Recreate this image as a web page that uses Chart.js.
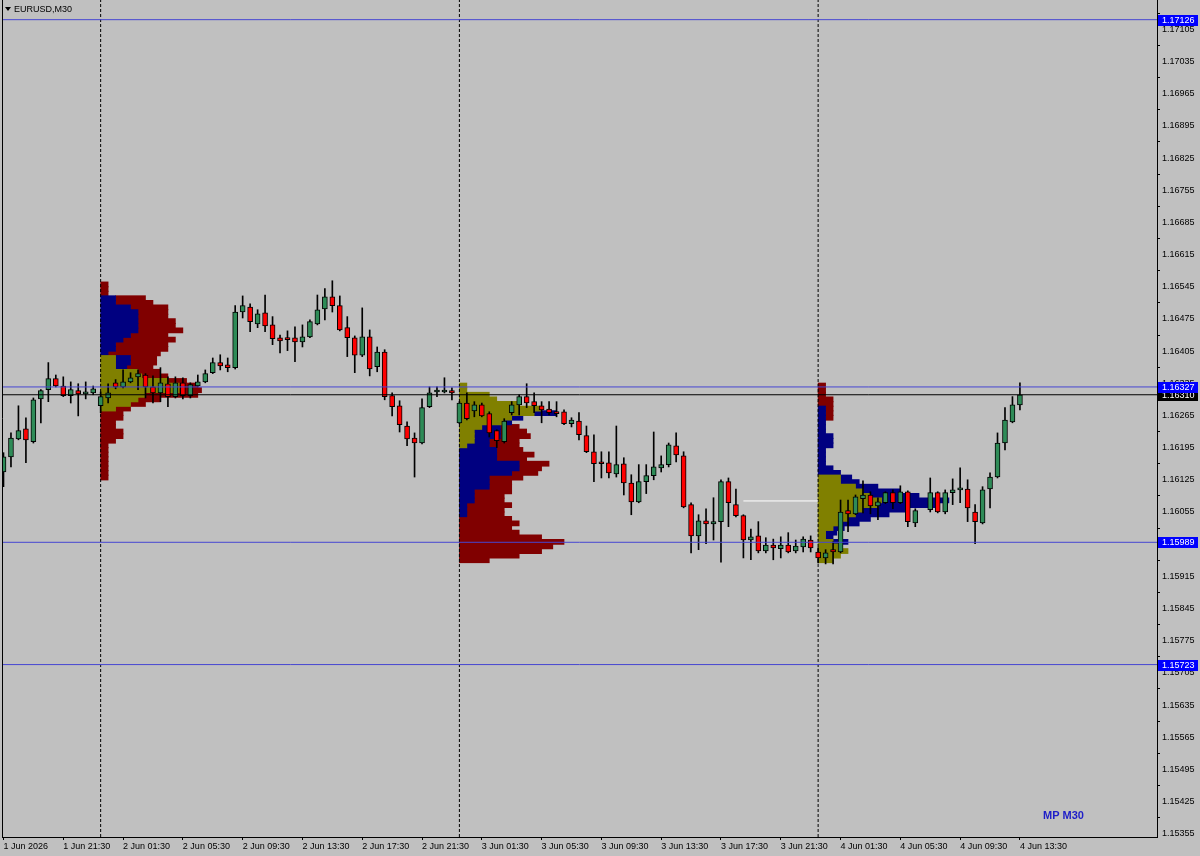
<!DOCTYPE html>
<html>
<head>
<meta charset="utf-8">
<title>EURUSD,M30</title>
<script src="https://cdn.jsdelivr.net/npm/chart.js@4/dist/chart.umd.min.js"></script>
<style>
  html, body { margin: 0; padding: 0; background: #c0c0c0; }
  canvas { display: block; }
</style>
</head>
<body>
<canvas id="chart" width="1200" height="856"></canvas>
<script>
// M30 bars, 1 Jun 17:30 .. 4 Jun 13:30 (bar 123 missing)
const opens = [1.16142,1.16175,1.16214,1.16236,1.16208,1.16301,1.16321,1.16345,1.16329,1.16308,
  1.16319,1.16312,1.16314,1.16286,1.16303,1.16336,1.16327,1.16338,1.16349,1.16353,
  1.16327,1.16314,1.16334,1.16306,1.16336,1.16308,1.16329,1.16338,1.16358,1.16380,
  1.16375,1.16369,1.16490,1.16501,1.16464,1.16488,1.16462,1.16434,1.16432,1.16434,
  1.16425,1.16436,1.16464,1.16497,1.16523,1.16504,1.16456,1.16434,1.16396,1.16436,
  1.16371,1.16403,1.16308,1.16286,1.16242,1.16216,1.16205,1.16284,1.16316,1.16316,
  1.16319,1.16249,1.16292,1.16275,1.16288,1.16269,1.16232,1.16208,1.16271,1.16288,
  1.16306,1.16295,1.16286,1.16279,1.16271,1.16273,1.16247,1.16253,1.16221,1.16186,
  1.16162,1.16162,1.16138,1.16160,1.16118,1.16077,1.16121,1.16134,1.16151,1.16158,
  1.16199,1.16177,1.16071,1.16003,1.16036,1.16029,1.16034,1.16121,1.16071,1.16047,
  1.15994,1.16003,1.15970,1.15983,1.15975,1.15983,1.15970,1.15979,1.15994,1.15968,
  1.15955,1.15973,1.15968,1.16058,1.16051,1.16084,1.16092,1.16068,1.16075,1.16097,
  1.16075,1.16099,1.16031,null,1.16060,1.16097,1.16055,1.16097,1.16103,1.16105,
  1.16055,1.16031,1.16105,1.16131,1.16205,1.16251,1.16288];
const highs = [1.16184,1.16227,1.16286,1.16260,1.16303,1.16321,1.16380,1.16353,1.16349,1.16338,
  1.16334,1.16338,1.16329,1.16316,1.16334,1.16343,1.16364,1.16358,1.16364,1.16356,
  1.16351,1.16369,1.16349,1.16349,1.16347,1.16336,1.16353,1.16364,1.16390,1.16397,
  1.16390,1.16504,1.16525,1.16508,1.16495,1.16527,1.16480,1.16440,1.16449,1.16458,
  1.16462,1.16473,1.16527,1.16541,1.16558,1.16525,1.16480,1.16438,1.16499,1.16451,
  1.16414,1.16408,1.16314,1.16297,1.16251,1.16227,1.16301,1.16327,1.16327,1.16347,
  1.16325,1.16295,1.16314,1.16295,1.16292,1.16273,1.16234,1.16258,1.16295,1.16310,
  1.16334,1.16314,1.16295,1.16295,1.16295,1.16277,1.16260,1.16271,1.16242,1.16223,
  1.16186,1.16186,1.16242,1.16173,1.16136,1.16158,1.16158,1.16229,1.16177,1.16205,
  1.16227,1.16186,1.16075,1.16049,1.16062,1.16086,1.16125,1.16129,1.16105,1.16049,
  1.16018,1.16034,1.15999,1.15996,1.16001,1.16010,1.15994,1.16001,1.16003,1.15977,
  1.15973,1.15990,1.16081,1.16081,1.16092,1.16123,1.16099,1.16086,1.16099,1.16103,
  1.16112,1.16101,1.16062,null,1.16129,1.16099,1.16103,1.16127,1.16151,1.16125,
  1.16071,1.16110,1.16140,1.16227,1.16282,1.16306,1.16336];
const lows = [1.16110,1.16153,1.16212,1.16162,1.16205,1.16249,1.16295,1.16327,1.16306,1.16292,
  1.16264,1.16301,1.16310,1.16271,1.16292,1.16323,1.16325,1.16336,1.16321,1.16303,
  1.16292,1.16295,1.16284,1.16303,1.16301,1.16303,1.16327,1.16336,1.16356,1.16364,
  1.16360,1.16366,1.16477,1.16447,1.16456,1.16447,1.16419,1.16401,1.16406,1.16382,
  1.16414,1.16434,1.16462,1.16473,1.16490,1.16449,1.16393,1.16358,1.16393,1.16351,
  1.16360,1.16299,1.16264,1.16229,1.16199,1.16131,1.16203,1.16282,1.16306,1.16314,
  1.16299,1.16247,1.16255,1.16262,1.16262,1.16218,1.16195,1.16205,1.16266,1.16266,
  1.16282,1.16271,1.16249,1.16266,1.16262,1.16245,1.16240,1.16212,1.16184,1.16121,
  1.16129,1.16129,1.16131,1.16092,1.16049,1.16075,1.16095,1.16125,1.16142,1.16153,
  1.16164,1.16064,1.15966,1.15973,1.15986,1.15994,1.15946,1.16023,1.16044,1.15955,
  1.15951,1.15966,1.15966,1.15951,1.15955,1.15966,1.15966,1.15968,1.15968,1.15944,
  1.15942,1.15942,1.15966,1.16012,1.16049,1.16053,1.16051,1.16038,1.16073,1.16062,
  1.16073,1.16023,1.16023,null,1.16055,1.16053,1.16051,1.16071,1.16075,1.16034,
  1.15986,1.16029,1.16064,1.16129,1.16190,1.16249,1.16277];
const closes = [1.16175,1.16216,1.16232,1.16212,1.16299,1.16319,1.16345,1.16329,1.16308,1.16321,
  1.16312,1.16316,1.16323,1.16306,1.16314,1.16327,1.16338,1.16347,1.16356,1.16327,
  1.16314,1.16336,1.16306,1.16336,1.16308,1.16332,1.16338,1.16356,1.16380,1.16373,
  1.16369,1.16490,1.16504,1.16469,1.16486,1.16460,1.16432,1.16427,1.16430,1.16425,
  1.16436,1.16469,1.16495,1.16523,1.16504,1.16451,1.16434,1.16396,1.16436,1.16366,
  1.16403,1.16306,1.16284,1.16245,1.16214,1.16205,1.16282,1.16314,1.16319,1.16317,
  1.16314,1.16292,1.16258,1.16288,1.16264,1.16227,1.16210,1.16253,1.16288,1.16306,
  1.16292,1.16286,1.16277,1.16271,1.16269,1.16247,1.16255,1.16223,1.16186,1.16160,
  1.16160,1.16140,1.16158,1.16118,1.16077,1.16121,1.16134,1.16153,1.16158,1.16201,
  1.16179,1.16066,1.16003,1.16036,1.16029,1.16034,1.16121,1.16075,1.16047,1.15994,
  1.16001,1.15970,1.15983,1.15977,1.15983,1.15968,1.15981,1.15996,1.15977,1.15955,
  1.15966,1.15968,1.16055,1.16051,1.16088,1.16092,1.16068,1.16077,1.16097,1.16075,
  1.16099,1.16034,1.16058,null,1.16097,1.16055,1.16097,1.16103,1.16105,1.16064,
  1.16034,1.16103,1.16131,1.16205,1.16255,1.16288,1.16310];

const timeTickBars = [0, 8, 16, 24, 32, 40, 48, 56, 64, 72, 80, 88, 96, 104, 112, 120, 128, 136];
const timeTickLabels = ['1 Jun 2026', '1 Jun 21:30', '2 Jun 01:30', '2 Jun 05:30', '2 Jun 09:30',
  '2 Jun 13:30', '2 Jun 17:30', '2 Jun 21:30', '3 Jun 01:30', '3 Jun 05:30', '3 Jun 09:30',
  '3 Jun 13:30', '3 Jun 17:30', '3 Jun 21:30', '4 Jun 01:30', '4 Jun 05:30', '4 Jun 09:30', '4 Jun 13:30'];
const priceTicks = [1.17105, 1.17035, 1.16965, 1.16895, 1.16825, 1.16755, 1.16685, 1.16615, 1.16545,
  1.16475, 1.16405, 1.16335, 1.16265, 1.16195, 1.16125, 1.16055, 1.15985, 1.15915, 1.15845,
  1.15775, 1.15705, 1.15635, 1.15565, 1.15495, 1.15425, 1.15355];

const dayStartBars = [13, 61, 109];
const levelLines = [1.17126, 1.16327, 1.15989, 1.15723];
const bidPrice = 1.16310;
const whiteLineBars = [99, 109];
const whiteLinePrice = 1.16079;

// market profile, rows of 0.0001 from the top price down, counts in TPOs
const profileTop = [1.16550, 1.16330, 1.16330];
const profileStep = 0.0001;
const olive1 = [0,0,0,0,0,0,0,0,0,0, 0,0,0,0,0,0,4,4,4,10, 11,18,21,21,12,10,8,4,0,0, 0,0,0,0,0,0,0,0,0,0, 0,0,0];
const blue1  = [0,0,0,4,4,8,10,10,10,10, 10,8,6,4,4,2,4,4,3,0, 0,0,0,0,0,0,0,0,0,0, 0,0,0,0,0,0,0,0,0,0, 0,0,0];
const red1   = [2,2,2,8,10,10,8,8,10,10, 12,10,14,14,14,14,7,7,7,6, 7,5,5,6,14,6,4,4,6,6, 4,4,6,6,4,2,2,2,2,2, 2,2,2];
const olive2 = [2,2,8,10,16,22,20,14,12,6, 4,4,4,2,0,0,0,0,0,0, 0,0,0,0,0,0,0,0,0,0, 0,0,0,0,0,0,0,0,0];
const blue2  = [0,0,0,0,0,0,6,3,2,5, 7,7,4,6,10,10,10,16,16,14, 8,8,8,4,4,4,2,2,2,0, 0,0,0,0,0,0,0,0,0];
const red2   = [0,0,0,0,0,0,0,0,0,5, 7,8,8,8,7,10,8,8,6,7, 9,6,6,10,8,8,12,10,10,14, 16,14,16,22,28,25,22,16,8];
const olive3 = [0,0,0,0,0,0,0,0,0,0, 0,0,0,0,0,0,0,0,0,0, 6,6,10,12,14,17,16,12,10,8, 6,4,2,2,4,6,8,6,4];
const blue3  = [0,0,0,0,0,2,2,2,2,2, 2,4,4,4,2,2,2,2,4,6, 3,5,6,10,13,18,16,12,9,6, 5,3,3,2,4,0,0,0,0];
const red3   = [2,2,2,4,4,2,2,2,0,0, 0,0,0,0,0,0,0,0,0,0, 0,0,0,0,0,0,0,0,0,0, 0,0,0,0,0,0,0,0,0];

const xMin = -0.2, xMax = 154.34;
const yMin = 1.153479, yMax = 1.171688;
const plotHeight = 837;
const rowPx = profileStep * plotHeight / (yMax - yMin);
const tpoWidth = 0.5; // bars per TPO

const bodies = [], wicks = [], bodyColors = [];
opens.forEach((o, i) => {
  if (o === null) return;
  bodies.push({ x: i, y: [o, closes[i]] });
  wicks.push({ x: i, y: [lows[i], highs[i]] });
  bodyColors.push(closes[i] >= o ? '#2e8b57' : '#ff0000');
});

const profiles = [
  { start: dayStartBars[0], top: profileTop[0], parts: [olive1, blue1, red1] },
  { start: dayStartBars[1], top: profileTop[1], parts: [olive2, blue2, red2] },
  { start: dayStartBars[2], top: profileTop[2], parts: [olive3, blue3, red3] }
];
const profileColors = ['#808000', '#000080', '#800000'];
const profileSets = [];
profiles.forEach(p => {
  const used = p.parts[0].map(() => 0);
  p.parts.forEach((counts, c) => {
    const data = [];
    counts.forEach((n, k) => {
      if (n > 0) {
        const x0 = p.start + used[k] * tpoWidth;
        data.push({ y: p.top - k * profileStep, x: [x0, x0 + n * tpoWidth] });
      }
      used[k] += n;
    });
    profileSets.push({
      type: 'bar', indexAxis: 'y', data, backgroundColor: profileColors[c],
      borderWidth: 0, barThickness: rowPx + 0.5, grouped: false, order: 5
    });
  });
});

const hLine = (p, color, x0 = xMin, x1 = xMax) => ({
  type: 'line', data: [{ x: x0, y: p }, { x: x1, y: p }],
  borderColor: color, borderWidth: 1, pointRadius: 0, fill: false, order: 1
});

const datasets = [
  ...profileSets,
  ...dayStartBars.map(b => ({
    type: 'line', data: [{ x: b, y: yMin }, { x: b, y: yMax }],
    borderColor: '#000', borderWidth: 1, borderDash: [3, 2], pointRadius: 0, order: 4
  })),
  { type: 'bar', data: wicks, backgroundColor: '#000', barThickness: 1, grouped: false, order: 3 },
  { type: 'bar', data: bodies, backgroundColor: bodyColors, borderColor: '#000', borderWidth: 1,
    borderSkipped: false, barThickness: 5, minBarLength: 2, grouped: false, order: 2 },
  hLine(bidPrice, '#000'),
  ...levelLines.map(p => hLine(p, '#4646d2')),
  hLine(whiteLinePrice, '#ffffff', whiteLineBars[0], whiteLineBars[1])
];

const mt4Decor = {
  id: 'mt4Decor',
  beforeDraw(chart) {
    const ctx = chart.ctx;
    ctx.save();
    ctx.fillStyle = '#c0c0c0';
    ctx.fillRect(0, 0, chart.width, chart.height);
    ctx.restore();
  },
  afterDraw(chart) {
    const ctx = chart.ctx, a = chart.chartArea, y = chart.scales.y;
    ctx.save();
    // frame
    ctx.strokeStyle = '#000';
    ctx.lineWidth = 1;
    ctx.beginPath();
    ctx.moveTo(a.left + 0.5, a.top);
    ctx.lineTo(a.left + 0.5, a.bottom);
    ctx.stroke();
    // title
    ctx.fillStyle = '#000';
    ctx.beginPath();
    ctx.moveTo(5, 7); ctx.lineTo(11, 7); ctx.lineTo(8, 11); ctx.closePath();
    ctx.fill();
    ctx.font = '9px "Liberation Sans"';
    ctx.textBaseline = 'middle';
    ctx.fillText('EURUSD,M30', 14, 9.5);
    // price labels
    const box = (p, bg) => {
      const py = Math.round(y.getPixelForValue(p));
      ctx.fillStyle = bg;
      ctx.fillRect(a.right + 1, py - 5, 40, 11);
      ctx.fillStyle = '#fff';
      ctx.fillText(p.toFixed(5), a.right + 5, py + 0.5);
    };
    box(bidPrice, '#000');
    levelLines.forEach(p => box(p, '#0000ff'));
    // indicator name
    ctx.fillStyle = '#1e1ec8';
    ctx.font = 'bold 11px "Liberation Sans"';
    ctx.fillText('MP M30', 1043, 815.5);
    ctx.restore();
  }
};

Chart.defaults.font.family = '"Liberation Sans"';
Chart.defaults.font.size = 9;
Chart.defaults.color = '#000';

new Chart(document.getElementById('chart'), {
  type: 'bar',
  data: { datasets },
  options: {
    responsive: false,
    devicePixelRatio: 1,
    animation: false,
    layout: { padding: { left: 2, top: 0, right: 0, bottom: 0 } },
    plugins: { legend: { display: false }, tooltip: { enabled: false } },
    scales: {
      x: {
        type: 'linear', min: xMin, max: xMax, offset: false, bounds: 'data',
        grid: { display: true, drawOnChartArea: false, drawTicks: true, tickLength: 3, color: '#000', offset: false },
        border: { display: true, color: '#000' },
        afterBuildTicks: s => { s.ticks = timeTickBars.map(v => ({ value: v })); },
        afterFit: s => { s.height = 19; s.paddingLeft = 0; s.paddingRight = 0; },
        ticks: {
          autoSkip: false, maxRotation: 0, minRotation: 0, align: 'start', padding: 1,
          callback: (v, i) => timeTickLabels[i]
        }
      },
      y: {
        type: 'linear', position: 'right', min: yMin, max: yMax, offset: false, bounds: 'data',
        grid: { display: true, drawOnChartArea: false, drawTicks: true, tickLength: 3, color: '#000' },
        border: { display: true, color: '#000' },
        afterBuildTicks: s => { s.ticks = priceTicks.map(v => ({ value: v })); },
        afterFit: s => { s.width = 43; s.paddingTop = 0; s.paddingBottom = 0; },
        ticks: { autoSkip: false, padding: 2, callback: v => v.toFixed(5) }
      }
    }
  },
  plugins: [mt4Decor]
});
</script>
</body>
</html>
